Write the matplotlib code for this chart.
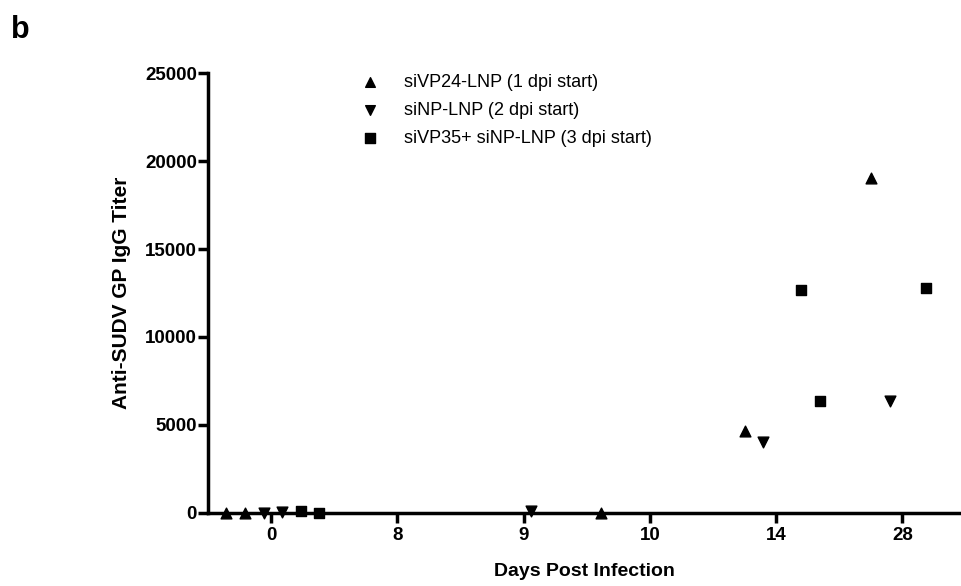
import matplotlib.pyplot as plt

plt.rcParams['font.family'] = ['Liberation Sans', 'DejaVu Sans']

# x categories (days post infection)
days = ["0", "8", "9", "10", "14", "28"]

# each series: category index, small jitter offset, titer value
vp24_cat = [0, 0, 3, 4, 5]
vp24_off = [-0.36, -0.21, -0.39, -0.25, -0.25]
vp24_val = [0, 0, 0, 4660, 19030]

np_cat = [0, 0, 2, 4, 5]
np_off = [-0.06, 0.09, 0.06, -0.10, -0.10]
np_val = [0, 50, 100, 4030, 6380]

vp35_cat = [0, 0, 4, 4, 5]
vp35_off = [0.24, 0.38, 0.20, 0.35, 0.19]
vp35_val = [100, 0, 12670, 6360, 12780]

labels = ["siVP24-LNP (1 dpi start)", "siNP-LNP (2 dpi start)",
          "siVP35+ siNP-LNP (3 dpi start)"]


def positions(cats, offs):
    return [c + o for c, o in zip(cats, offs)]


fig = plt.figure(figsize=(9.61, 5.86), dpi=100)
ax = fig.add_axes([0.2164, 0.1246, 0.783, 0.7508])

ax.scatter(positions(vp24_cat, vp24_off), vp24_val, marker="^", s=60,
           color="black", label=labels[0], clip_on=False, zorder=3)
ax.scatter(positions(np_cat, np_off), np_val, marker="v", s=60,
           color="black", label=labels[1], clip_on=False, zorder=3)
ax.scatter(positions(vp35_cat, vp35_off), vp35_val, marker="s", s=60,
           color="black", label=labels[2], clip_on=False, zorder=3)

ax.set_xlim(-0.5, 5.46)
ax.set_ylim(0, 25000)
ax.set_xticks(range(len(days)))
ax.set_xticklabels(days)
ax.set_yticks([0, 5000, 10000, 15000, 20000, 25000])

for side in ["top", "right"]:
    ax.spines[side].set_visible(False)
for side in ["left", "bottom"]:
    ax.spines[side].set_linewidth(2.5)

ax.tick_params(axis="both", direction="out", length=7, width=2.5,
               labelsize=13.5)
ax.tick_params(axis="y", pad=1)
ax.tick_params(axis="x", pad=3)
for lab in ax.get_xticklabels() + ax.get_yticklabels():
    lab.set_fontweight("bold")

ax.set_xlabel("Days Post Infection", fontsize=14, fontweight="bold", labelpad=14)
ax.set_ylabel("Anti-SUDV GP IgG Titer", fontsize=15, fontweight="bold", labelpad=10)

ax.legend(loc="upper left", bbox_to_anchor=(0.17, 1.035), frameon=False,
          fontsize=13, handletextpad=0.9, labelspacing=0.6, markerscale=0.9)

fig.text(0.011, 0.935, "b", fontsize=22, fontweight="bold")

fig.savefig("out.png", dpi=100)
